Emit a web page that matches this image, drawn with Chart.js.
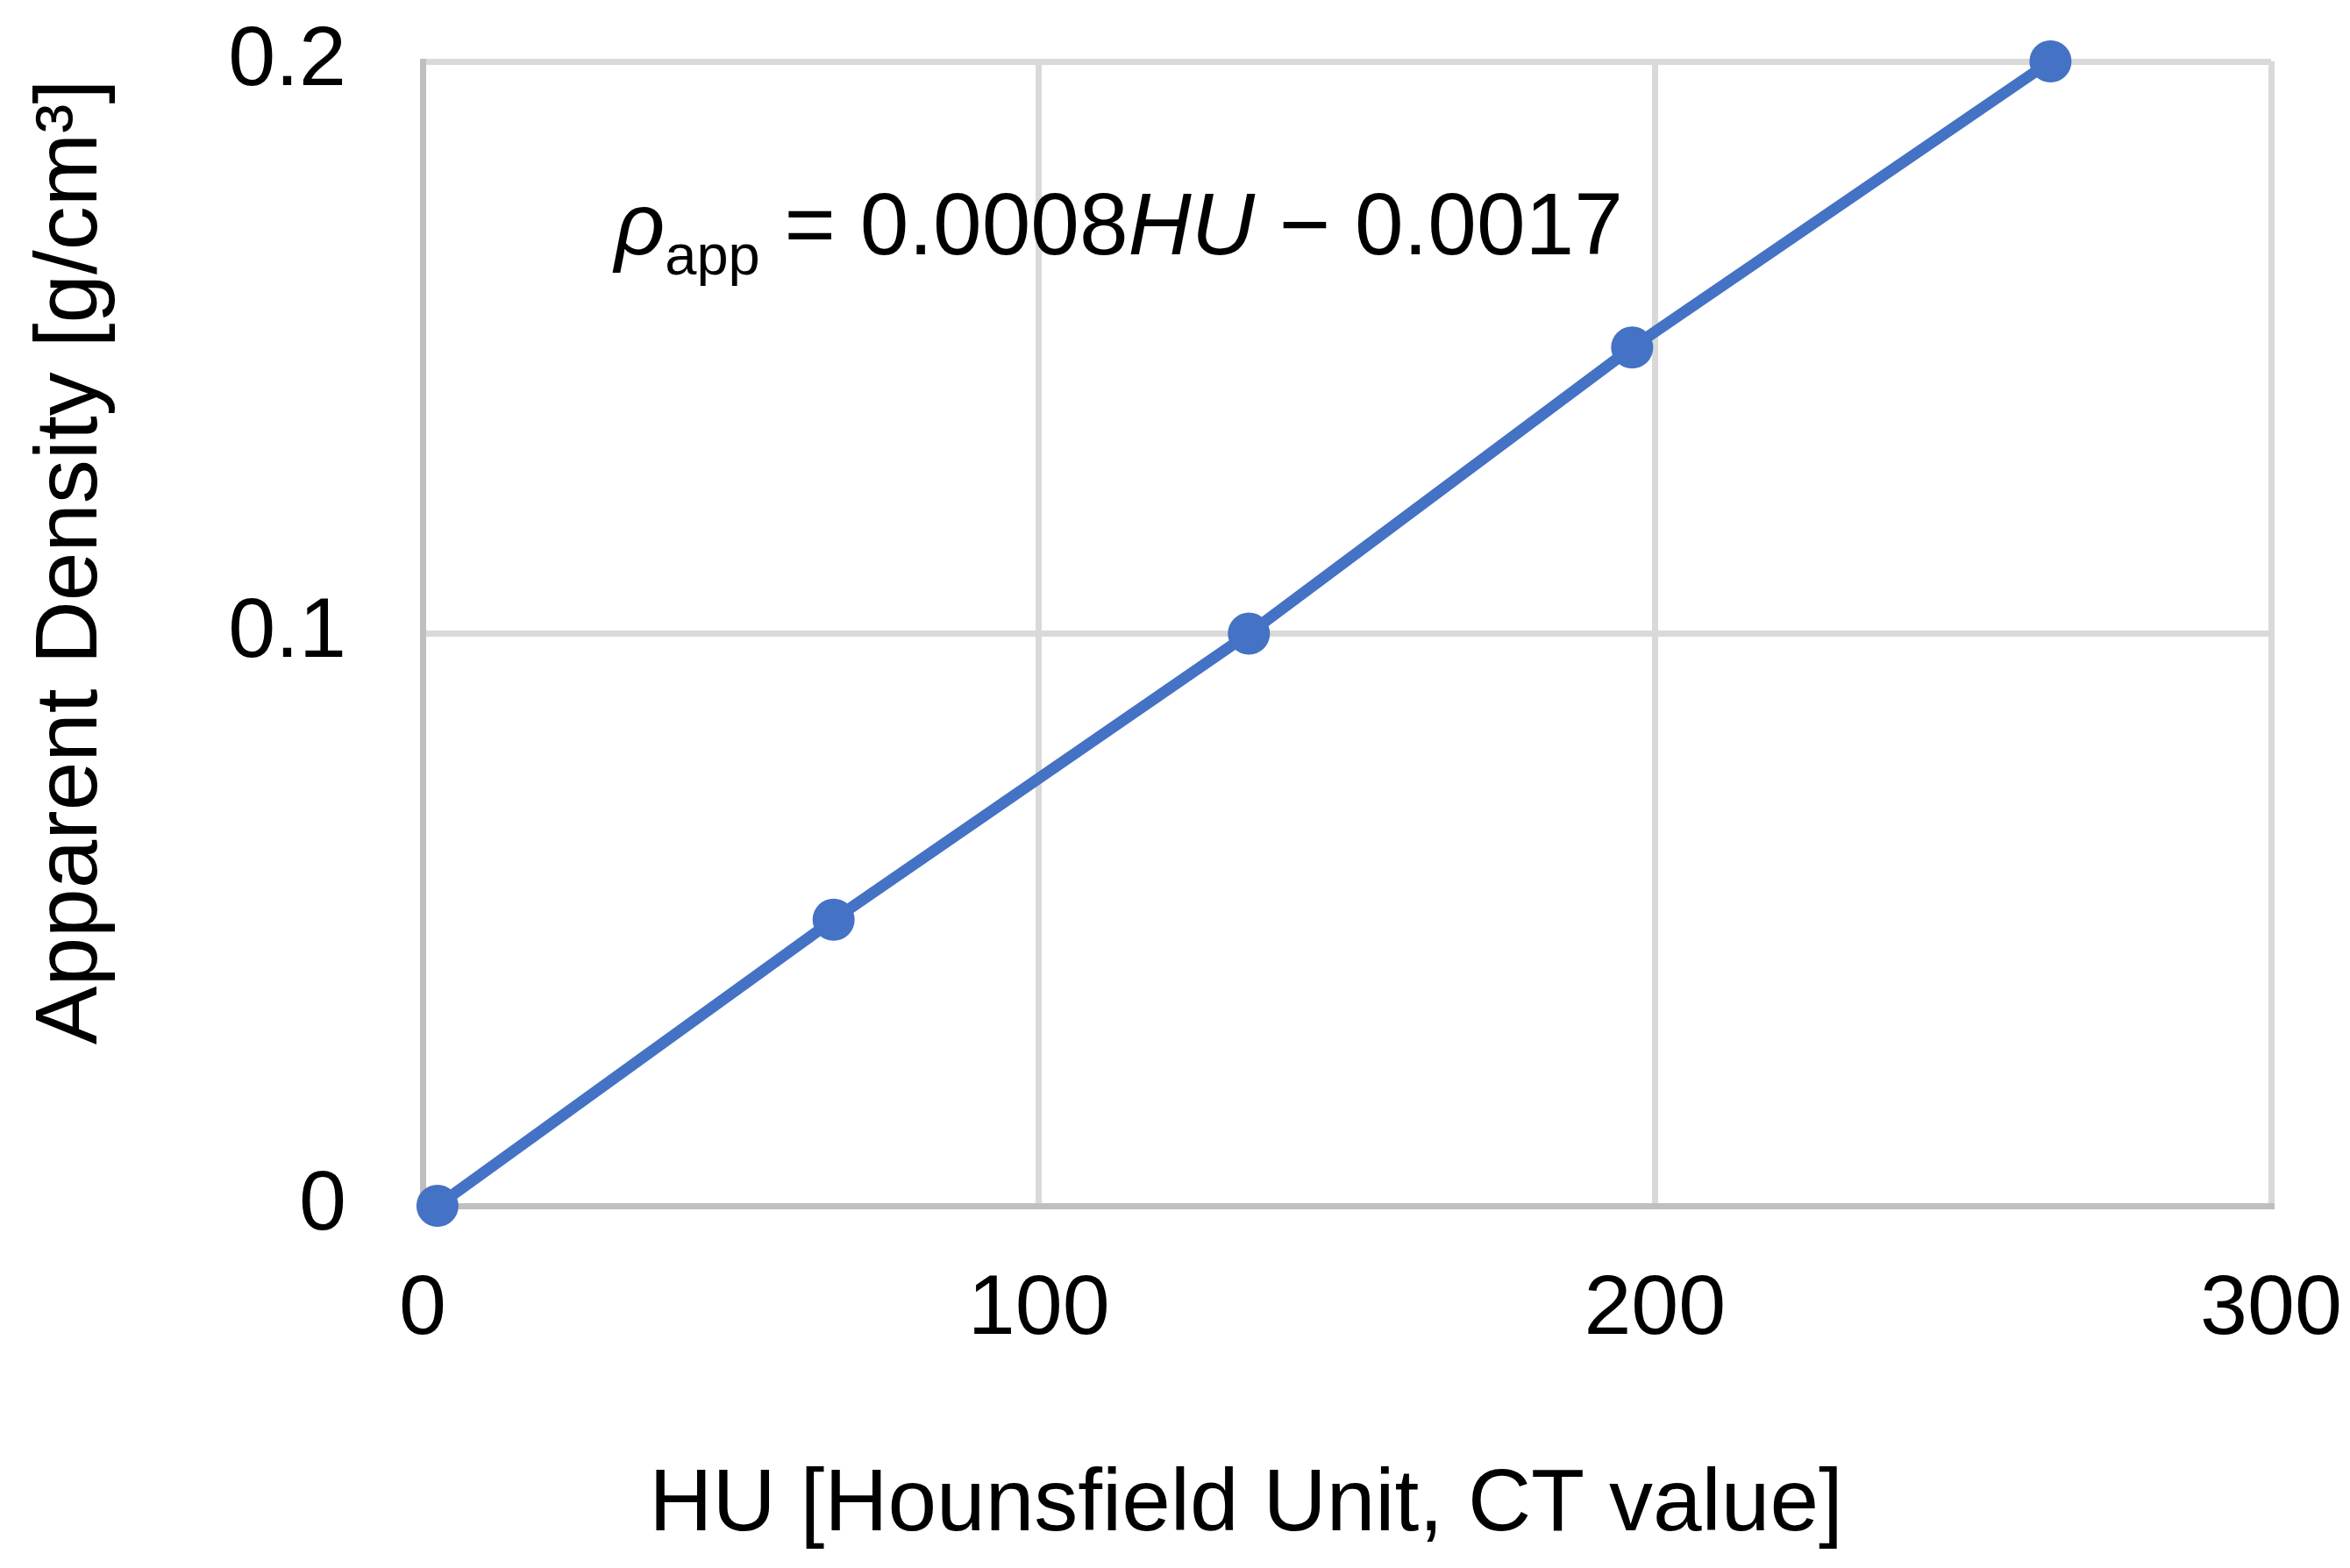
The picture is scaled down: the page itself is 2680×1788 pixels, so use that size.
<!DOCTYPE html>
<html><head><meta charset="utf-8">
<script src="https://cdn.jsdelivr.net/npm/chart.js@4.4.0/dist/chart.umd.min.js"></script>
<style>html,body{margin:0;padding:0;background:#fff}</style>
</head><body>
<canvas id="c" width="2680" height="1788"></canvas>
<script>
const huValues = [2.4, 66.7, 134.1, 196.3, 264.2];
const densityValues = [0, 0.05, 0.1, 0.15, 0.2];
const xTickValues = [0, 100, 200, 300];
const yTickValues = [0, 0.1, 0.2];
const xTitle = 'HU [Hounsfield Unit, CT value]';
const yTitle = 'Apparent Density [g/cm³]';
const equationParts = [
  {t: 'ρ', italic: true, sub: false},
  {t: 'app', italic: false, sub: true},
  {t: ' = 0.0008', italic: false, sub: false},
  {t: 'HU', italic: true, sub: false},
  {t: ' − 0.0017', italic: false, sub: false}
];

const FONT = '"Liberation Sans", Arial, sans-serif';
const BLUE = '#4472C4';

const points = huValues.map((x, i) => ({x: x, y: densityValues[i]}));

const textPlugin = {
  id: 'texts',
  afterDraw(chart) {
    const ctx = chart.ctx;
    ctx.save();
    ctx.fillStyle = '#000';
    ctx.font = '100px ' + FONT;
    ctx.textAlign = 'center';
    ctx.textBaseline = 'alphabetic';
    ctx.fillText(xTitle, 1421, 1745);
    ctx.save();
    ctx.translate(110, 641);
    ctx.rotate(-Math.PI / 2);
    ctx.fillText(yTitle, 0, 0);
    ctx.restore();
    ctx.textAlign = 'left';
    let x = 701;
    const base = 290;
    equationParts.forEach(p => {
      const size = p.sub ? 65 : 100;
      ctx.font = (p.italic ? 'italic ' : '') + size + 'px ' + FONT;
      ctx.fillText(p.t, x, p.sub ? base + 23 : base);
      x += ctx.measureText(p.t).width;
    });
    ctx.restore();
  }
};

new Chart(document.getElementById('c'), {
  type: 'scatter',
  data: {
    datasets: [{
      data: points,
      showLine: true,
      borderColor: BLUE,
      backgroundColor: BLUE,
      borderWidth: 13,
      pointRadius: 24,
      pointBorderWidth: 0,
      pointBackgroundColor: BLUE,
      clip: false
    }]
  },
  options: {
    responsive: false,
    animation: false,
    devicePixelRatio: 1,
    layout: {autoPadding: false, padding: {top: 70, right: 90, left: 0, bottom: 0}},
    plugins: {legend: {display: false}, tooltip: {enabled: false}},
    scales: {
      x: {
        type: 'linear', min: 0, max: 300,
        afterBuildTicks: s => { s.ticks = xTickValues.map(v => ({value: v})); },
        afterFit: s => { s.height = 413; s.paddingLeft = 0; s.paddingRight = 0; },
        grid: {color: '#d9d9d9', lineWidth: 7, drawTicks: false},
        border: {color: '#bfbfbf', width: 7},
        ticks: {color: '#000', font: {family: FONT, size: 97}, padding: 61, callback: v => String(v), maxRotation: 0}
      },
      y: {
        type: 'linear', min: 0, max: 0.2,
        afterBuildTicks: s => { s.ticks = yTickValues.map(v => ({value: v})); },
        afterFit: s => { s.width = 482; s.paddingTop = 0; s.paddingBottom = 0; },
        grid: {color: '#d9d9d9', lineWidth: 7, drawTicks: false},
        border: {color: '#bfbfbf', width: 7},
        ticks: {color: '#000', font: {family: FONT, size: 97}, padding: 87, callback: v => String(v)}
      }
    }
  },
  plugins: [textPlugin]
});
</script>
</body></html>
